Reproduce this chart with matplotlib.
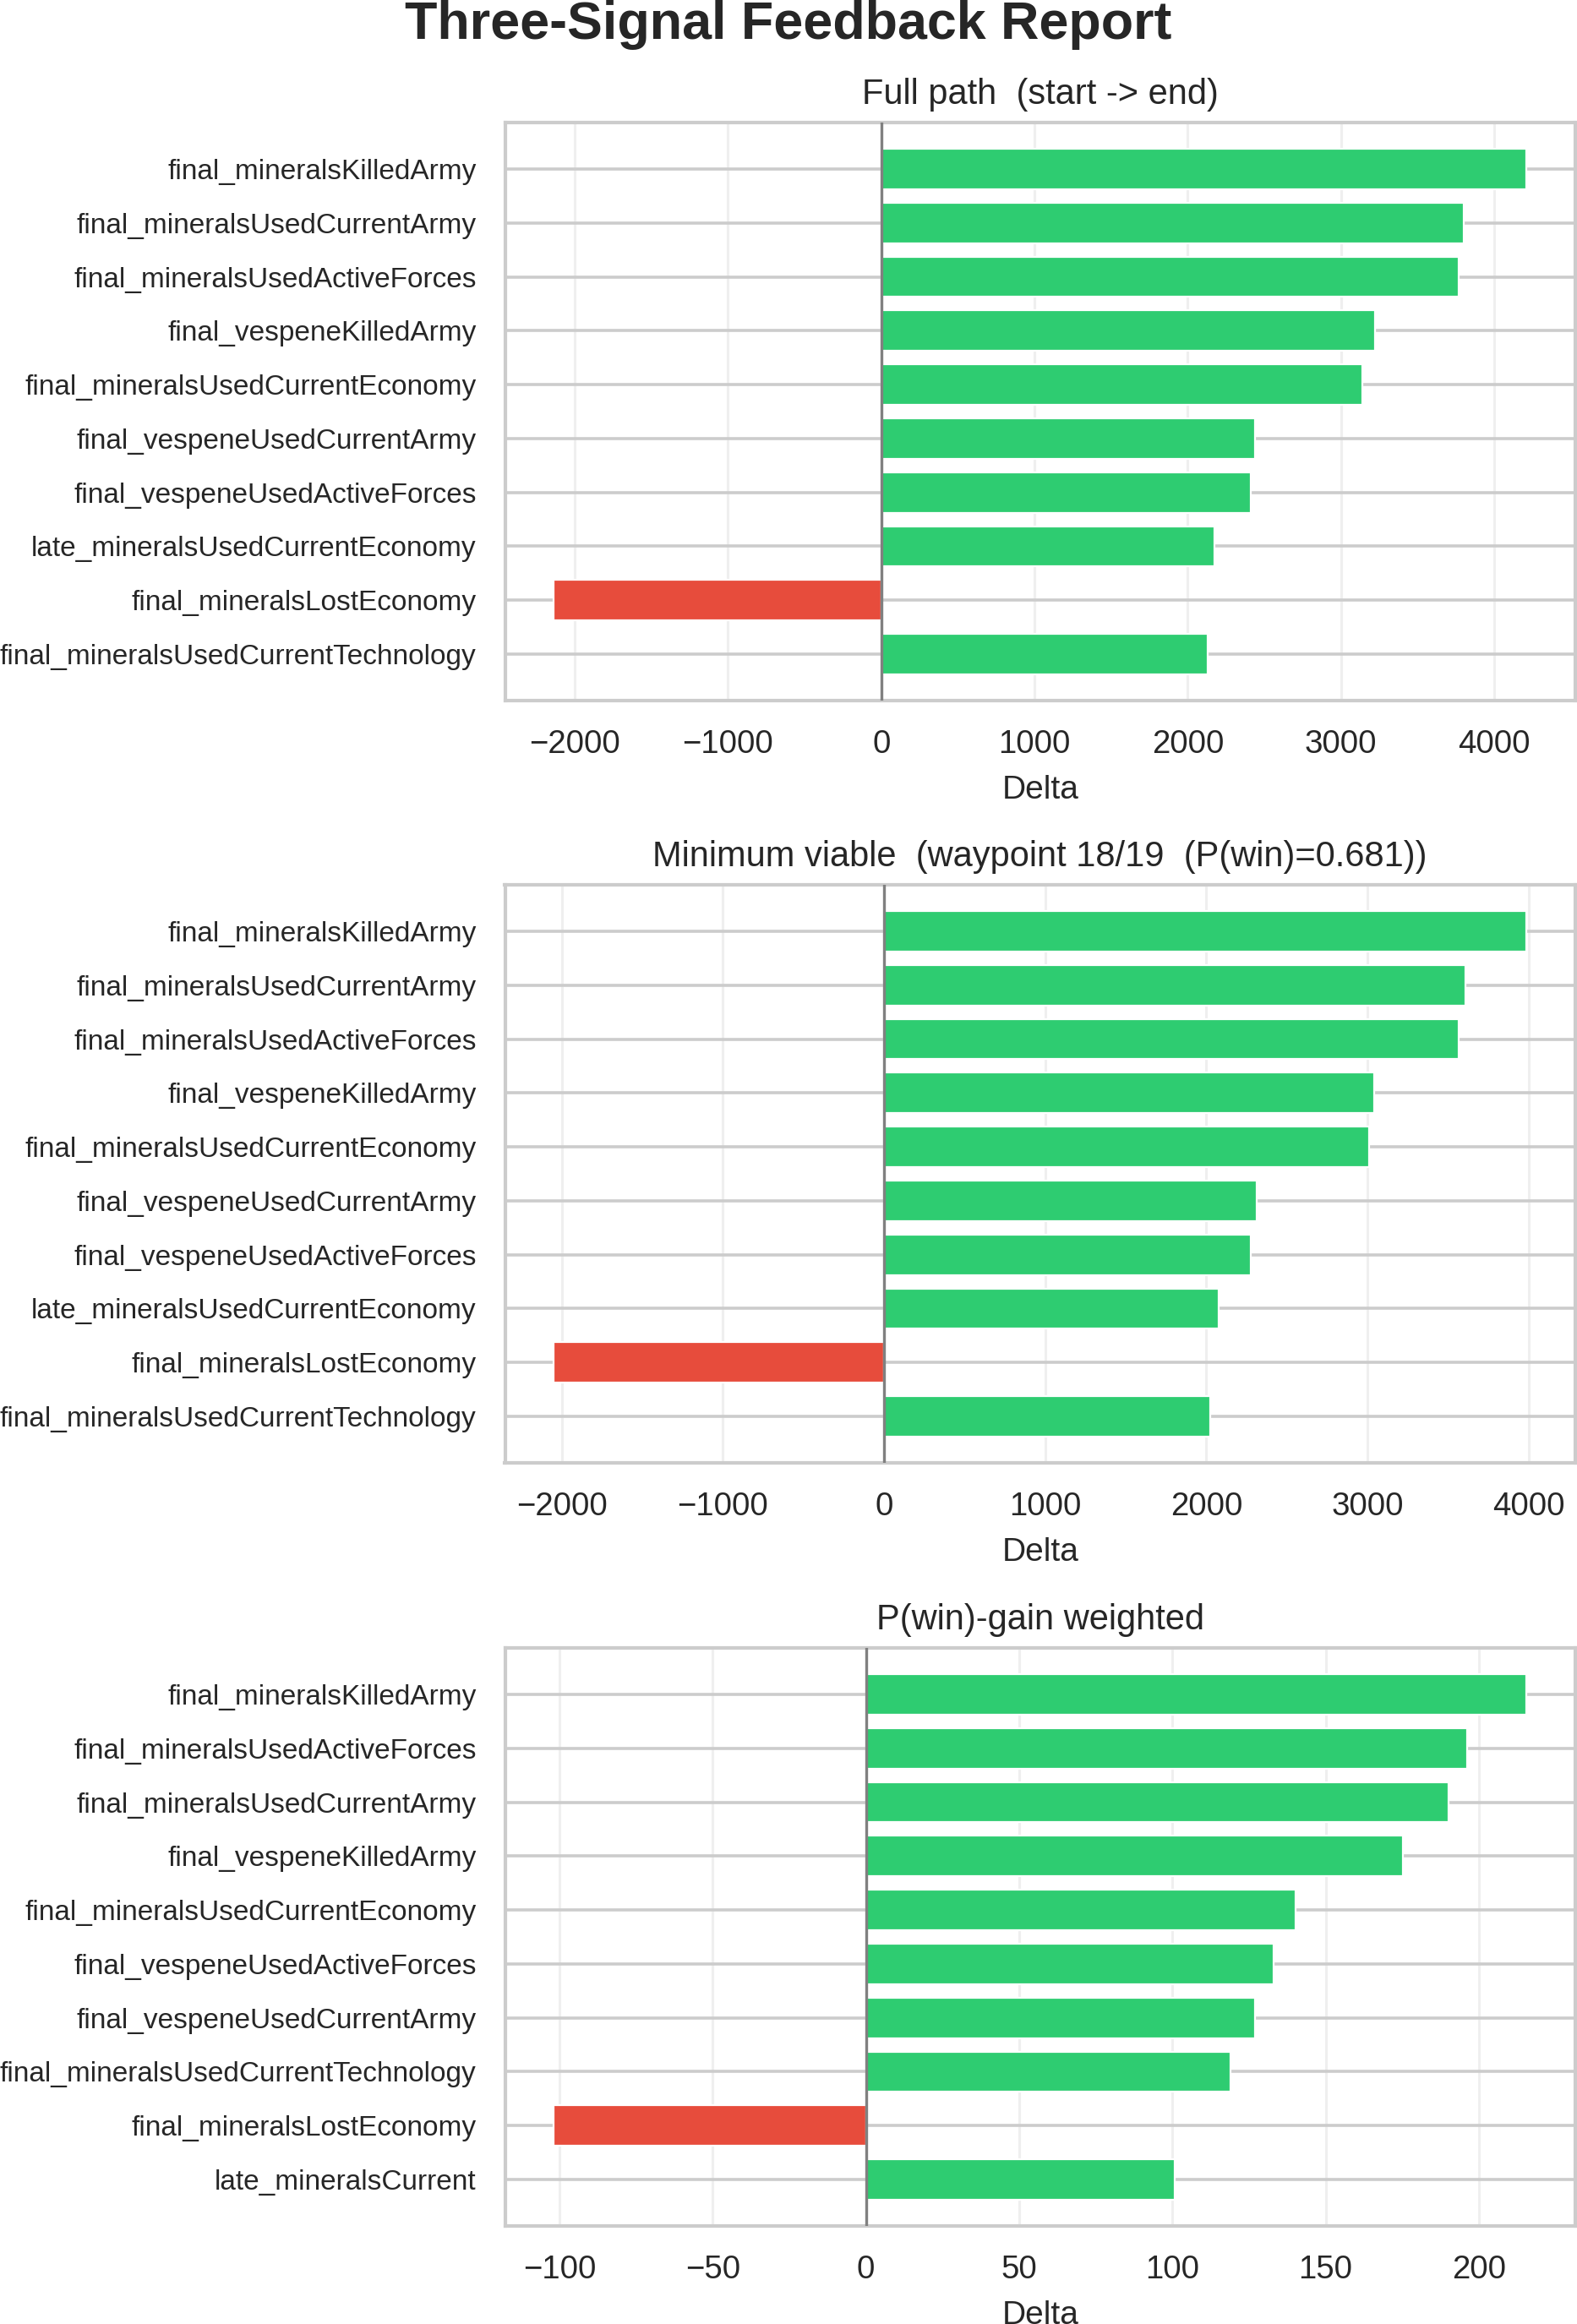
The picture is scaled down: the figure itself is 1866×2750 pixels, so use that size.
import matplotlib
matplotlib.use("Agg")
import matplotlib.pyplot as plt

plt.rcParams['font.family'] = ['Liberation Sans', 'DejaVu Sans']
plt.rcParams['text.color'] = '#262626'
plt.rcParams['axes.labelcolor'] = '#262626'
plt.rcParams['xtick.color'] = '#262626'
plt.rcParams['ytick.color'] = '#262626'

# --- data ---
labels_full = [
    "final_mineralsKilledArmy",
    "final_mineralsUsedCurrentArmy",
    "final_mineralsUsedActiveForces",
    "final_vespeneKilledArmy",
    "final_mineralsUsedCurrentEconomy",
    "final_vespeneUsedCurrentArmy",
    "final_vespeneUsedActiveForces",
    "late_mineralsUsedCurrentEconomy",
    "final_mineralsLostEconomy",
    "final_mineralsUsedCurrentTechnology",
]
delta_full = [4212, 3799, 3768, 3223, 3141, 2438, 2410, 2174, -2138, 2133]

labels_minimum = list(labels_full)
delta_minimum = [3988, 3608, 3565, 3043, 3012, 2313, 2274, 2076, -2050, 2024]

labels_weighted = [
    "final_mineralsKilledArmy",
    "final_mineralsUsedActiveForces",
    "final_mineralsUsedCurrentArmy",
    "final_vespeneKilledArmy",
    "final_mineralsUsedCurrentEconomy",
    "final_vespeneUsedActiveForces",
    "final_vespeneUsedCurrentArmy",
    "final_mineralsUsedCurrentTechnology",
    "final_mineralsLostEconomy",
    "late_mineralsCurrent",
]
delta_weighted = [215.6, 196.3, 190.0, 175.2, 140.3, 133.0, 126.9, 118.9, -101.9, 100.8]

panel_titles = [
    "Full path  (start -> end)",
    "Minimum viable  (waypoint 18/19  (P(win)=0.681))",
    "P(win)-gain weighted",
]

GREEN = '#2ecc71'
RED = '#e74c3c'

W, H = 1866, 2750
fig = plt.figure(figsize=(W / 200, H / 200), dpi=200)

left = 597.5 / W
width = 1266.5 / W
height = 684 / H
bottoms = [(H - 829) / H, (H - 1731) / H, (H - 2634) / H]

panels = [
    (labels_full, delta_full),
    (labels_minimum, delta_minimum),
    (labels_weighted, delta_weighted),
]

for (labels, deltas), title, b in zip(panels, panel_titles, bottoms):
    ax = fig.add_axes([left, b, width, height])
    ypos = list(range(len(labels)))
    colors = [GREEN if d >= 0 else RED for d in deltas]
    ax.barh(ypos, deltas, height=0.75, color=colors,
            edgecolor='white', linewidth=0.8, zorder=2)
    ax.axvline(0, color='#808080', linewidth=1.2, zorder=3)
    ax.set_yticks(ypos)
    ax.set_yticklabels(labels, fontsize=12)
    ax.invert_yaxis()

    ax.set_axisbelow(True)
    ax.grid(axis='y', color='#cccccc', linewidth=1.3)
    ax.grid(axis='x', color='#cccccc', linewidth=1.1, alpha=0.3)
    for sp in ax.spines.values():
        sp.set_color('#cccccc')
        sp.set_linewidth(1.5)

    ax.tick_params(axis='y', length=0, pad=12.2)
    ax.tick_params(axis='x', length=0, pad=12.3, labelsize=13.8)
    ax.set_xlabel("Delta", fontsize=14, labelpad=6.3)
    ax.set_title(title, fontsize=15, pad=8.0)

fig.text(0.5, 1 - 46 / H, "Three-Signal Feedback Report", ha='center',
         va='baseline', fontsize=22.6, fontweight='bold')

fig.savefig("out.png", dpi=200)
